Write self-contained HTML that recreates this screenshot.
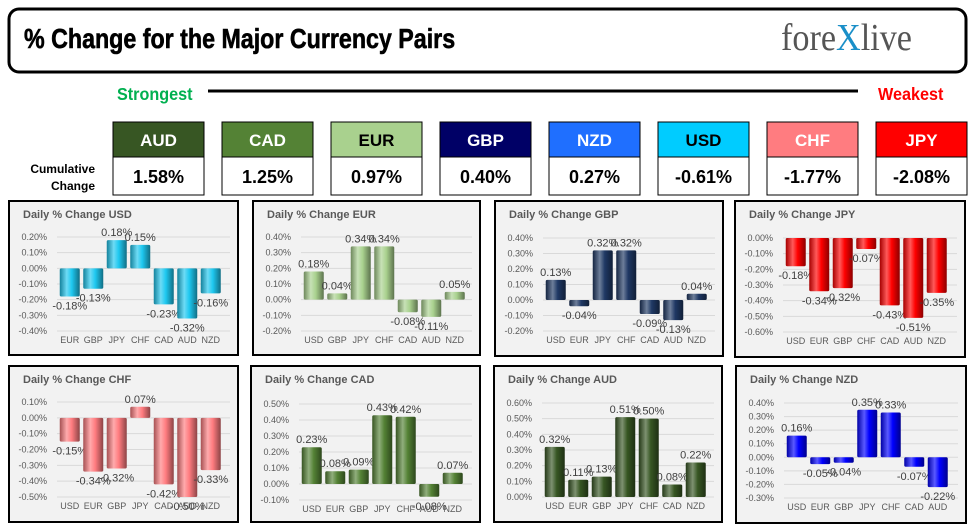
<!DOCTYPE html>
<html><head><meta charset="utf-8"><style>
body{margin:0;width:974px;height:531px;background:#fff;overflow:hidden;font-family:"Liberation Sans",sans-serif}
svg{position:absolute;left:0;top:0}
</style></head><body>
<svg id="s" width="974" height="531" xmlns="http://www.w3.org/2000/svg">
<defs></defs>
<rect x="9" y="9" width="957" height="63" rx="10" fill="#fff" stroke="#000" stroke-width="3"/>
<text x="24" y="48" font-family="Liberation Sans, sans-serif" font-weight="bold" font-size="28" stroke="#000" stroke-width="0.6" transform="translate(24 0) scale(0.83 1) translate(-24 0)">% Change for the Major Currency Pairs</text>
<text x="781" y="50" font-family="Liberation Serif, serif" font-size="38" fill="#555" transform="translate(781 0) scale(0.9 1) translate(-781 0)">fore<tspan fill="#1a8fc8">X</tspan>live</text>
<text x="117" y="100" font-family="Liberation Sans, sans-serif" font-weight="bold" font-size="18" fill="#00b050" transform="translate(117 0) scale(0.9 1) translate(-117 0)">Strongest</text>
<line x1="208" y1="91" x2="858" y2="91" stroke="#000" stroke-width="3"/>
<text x="878" y="100" font-family="Liberation Sans, sans-serif" font-weight="bold" font-size="18" fill="#ff0000" transform="translate(878 0) scale(0.9 1) translate(-878 0)">Weakest</text>
<text x="95" y="173" text-anchor="end" font-weight="bold" font-size="12">Cumulative</text>
<text x="95" y="190" text-anchor="end" font-weight="bold" font-size="12">Change</text>
<g id="cells"></g>
<g id="charts"></g>
</svg>
<script>
const NS="http://www.w3.org/2000/svg";
const rankNames=["AUD","CAD","EUR","GBP","NZD","USD","CHF","JPY"];
const rankValues=[1.58,1.25,0.97,0.40,0.27,-0.61,-1.77,-2.08];

const chartTitles=["USD","EUR","GBP","JPY","CHF","CAD","AUD","NZD"];
const catUSD=["EUR","GBP","JPY","CHF","CAD","AUD","NZD"];
const valUSD=[-0.18,-0.13,0.18,0.15,-0.23,-0.32,-0.16];
const catEUR=["USD","GBP","JPY","CHF","CAD","AUD","NZD"];
const valEUR=[0.18,0.04,0.34,0.34,-0.08,-0.11,0.05];
const catGBP=["USD","EUR","JPY","CHF","CAD","AUD","NZD"];
const valGBP=[0.13,-0.04,0.32,0.32,-0.09,-0.13,0.04];
const catJPY=["USD","EUR","GBP","CHF","CAD","AUD","NZD"];
const valJPY=[-0.18,-0.34,-0.32,-0.07,-0.43,-0.51,-0.35];
const catCHF=["USD","EUR","GBP","JPY","CAD","AUD","NZD"];
const valCHF=[-0.15,-0.34,-0.32,0.07,-0.42,-0.50,-0.33];
const catCAD=["USD","EUR","GBP","JPY","CHF","AUD","NZD"];
const valCAD=[0.23,0.08,0.09,0.43,0.42,-0.08,0.07];
const catAUD=["USD","EUR","GBP","JPY","CHF","CAD","NZD"];
const valAUD=[0.32,0.11,0.13,0.51,0.50,0.08,0.22];
const catNZD=["USD","EUR","GBP","JPY","CHF","CAD","AUD"];
const valNZD=[0.16,-0.05,-0.04,0.35,0.33,-0.07,-0.22];
const axisMax=[0.2,0.4,0.4,0.0,0.1,0.5,0.6,0.4];
const axisMin=[-0.4,-0.2,-0.2,-0.6,-0.5,-0.1,0.0,-0.3];

const cellColors=["#375623","#548235","#a9d18e","#000066","#1f6fff","#00ccff","#ff7c80","#ff0000"];
const cellText=["#fff","#fff","#000","#fff","#fff","#000","#fff","#fff"];
const svg=document.getElementById('s');
const defs=svg.querySelector('defs');
function mk(tag,attrs,parent){const e=document.createElementNS(NS,tag);for(const k in attrs)e.setAttribute(k,attrs[k]);(parent||svg).appendChild(e);return e;}

const cells=document.getElementById('cells');
rankNames.forEach((n,i)=>{
  const x=113+i*109;
  const g=mk('g',{},cells);
  
  
  mk('rect',{x:x,y:122,width:91,height:73,fill:'#fff',stroke:'#000','stroke-width':1},g);
  mk('rect',{x:x,y:122,width:91,height:35,fill:cellColors[i],stroke:'#000','stroke-width':1},g);
  const t=mk('text',{x:x+45.5,y:146,'text-anchor':'middle','font-weight':'bold','font-size':17,fill:cellText[i]},g);
  t.textContent=n;
  const v=mk('text',{x:x+45.5,y:183,'text-anchor':'middle','font-weight':'bold','font-size':18,fill:'#000'},g);
  v.textContent=rankValues[i].toFixed(2)+'%';
});

const cats=[catUSD,catEUR,catGBP,catJPY,catCHF,catCAD,catAUD,catNZD];
const vals=[valUSD,valEUR,valGBP,valJPY,valCHF,valCAD,valAUD,valNZD];
const barColors=["#1ec8f0","#a9d18e","#1f3864","#ff0000","#ff7c80","#548235","#375623","#0000ff"];
const boxes=[[9,201,229,154],[253,201,227,154],[495,201,228,155],[735,201,230,156],[9,366,229,156],[251,366,229,156],[494,366,228,156],[736,366,230,157]];
const plotTop=[237,237,238,238,402,404,403,403];
const plotBot=[331,331,331,332,497,500,497,498];
const charts=document.getElementById('charts');
function shade(hex,f){const n=parseInt(hex.slice(1),16);let r=n>>16,g=(n>>8)&255,b=n&255;
 const m=c=>Math.max(0,Math.min(255,Math.round(f>0?c+(255-c)*f:c*(1+f))));return `rgb(${m(r)},${m(g)},${m(b)})`;}
chartTitles.forEach((title,ci)=>{
  const [bx,by,bw,bh]=boxes[ci];
  const g=mk('g',{},charts);
  
  
  const gid='grad'+ci;const lg=mk('linearGradient',{id:gid,x1:0,y1:0,x2:1,y2:0},defs);
  const c=barColors[ci];
  [[0,shade(c,-0.35)],[0.35,shade(c,0.35)],[0.6,c],[1,shade(c,-0.45)]].forEach(s=>mk('stop',{offset:s[0],'stop-color':s[1]},lg));
  const box=mk('rect',{x:bx,y:by,width:bw,height:bh,fill:'#f2f2f2',stroke:'#000','stroke-width':2},g);
  
  
  const tt=mk('text',{x:bx+14,y:by+17,'font-size':11,'font-weight':'bold',fill:'#595959'},g);
  tt.textContent='Daily % Change '+title;
  
  
  const mx=axisMax[ci],mn=axisMin[ci],top=plotTop[ci],bot=plotBot[ci];
  const y=v=>top+(mx-v)/(mx-mn)*(bot-top);
  const steps=Math.round((mx-mn)/0.1);
  for(let k=0;k<=steps;k++){const v=mx-k*0.1;const yy=y(v);
    mk('line',{x1:bx+48,x2:bx+bw-8,y1:yy,y2:yy,stroke:'#d9d9d9','stroke-width':1},g);
    const lt=mk('text',{x:bx+38,y:yy+3,'text-anchor':'end','font-size':9,fill:'#595959'},g);
    lt.textContent=((Math.abs(v)<1e-9?0:v)).toFixed(2)+'%';
    
    
  }
  const band=23.5,x0=bx+49;
  const cs=cats[ci],vs=vals[ci];
  cs.forEach((cat,i)=>{
    const cx=x0+band*(i+0.5),v=vs[i];
    const y0=y(0),yv=y(v);
    const r=mk('rect',{x:cx-10,y:Math.min(y0,yv),width:20,height:Math.max(1,Math.abs(yv-y0)),fill:`url(#${gid})`,rx:1.5},g);
    
    
    const lab=mk('text',{x:cx,y:v>=0?yv-4:yv+13,'text-anchor':'middle','font-size':11,fill:'#404040'},g);
    lab.textContent=v.toFixed(2)+'%';
    
    
    const xl=mk('text',{x:cx,y:bot+12,'text-anchor':'middle','font-size':9,fill:'#595959'},g);
    xl.textContent=cat;
    
    
  });
});
</script>
</body></html>
